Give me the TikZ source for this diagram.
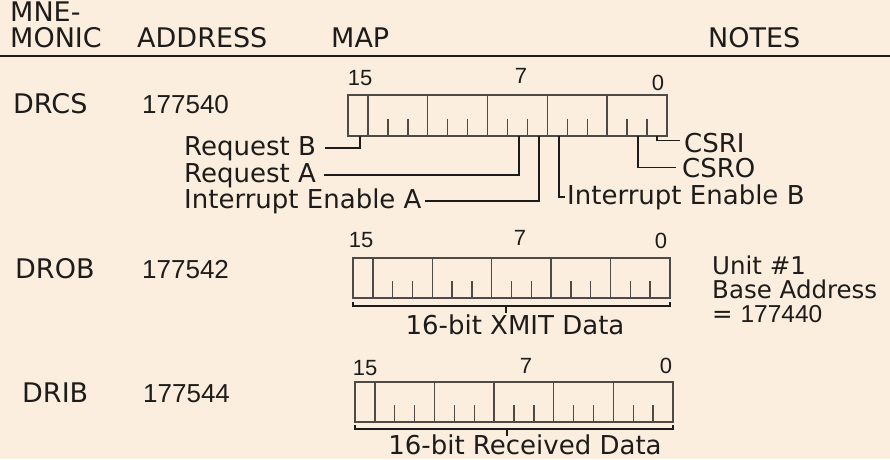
\documentclass[tikz,border=0pt]{standalone}
\usepackage{fontspec}
\setmainfont{DejaVu Sans}
\newfontfamily\numfont{Liberation Sans}
\definecolor{paper}{RGB}{252,238,222}
\definecolor{ink}{RGB}{30,28,26}
\definecolor{boxc}{RGB}{78,74,70}
\newcommand\drawreg[4]{%
  \draw[regline] (#1,#2) rectangle (#3,#4);
  \pgfmathsetmacro\regw{(#3-#1)/16}
  \foreach \k in {1,4,7,10,13} \draw[regline] ({#1+\k*\regw},#2) -- ({#1+\k*\regw},#4);
  \foreach \k in {2,3,5,6,8,9,11,12,14,15} \draw[regline] ({#1+\k*\regw},{#4-0.42*(#4-#2)}) -- ({#1+\k*\regw},#4);
}
\begin{document}
\begin{tikzpicture}[x=1pt,y=-1pt,
  txt/.style={inner sep=0pt, anchor=base west, text=ink, font=\fontsize{26}{30}\selectfont},
  hdr/.style={txt, font=\fontsize{27}{30}\selectfont},
  num/.style={txt, font=\numfont\fontsize{26}{30}\selectfont},
  note/.style={txt, font=\fontsize{24.5}{26}\selectfont},
  bitlbl/.style={inner sep=0pt, anchor=base, text=ink, font=\numfont\fontsize{22}{26}\selectfont},
  lead/.style={draw=ink, line width=1.9pt},
  regline/.style={draw=boxc, line width=1.4pt},
  brk/.style={draw=ink, line width=1.8pt},
]
\fill[paper] (0,0) rectangle (890,459);
\useasboundingbox (0,0) rectangle (890,459);

% header
\node[hdr] (h1) at (10,21) {MNE-};
\node[hdr] (h2) at (10,47) {MONIC};
\node[hdr] (h3) at (137,47) {ADDRESS};
\node[hdr] (h4) at (331,47) {MAP};
\node[hdr] (h5) at (708,47) {NOTES};
\draw[draw=ink, line width=2.6pt] (0,56) -- (890,56);

% DRCS row
\node[hdr] (m1) at (13,113) {DRCS};
\node[num] (a1) at (142,113) {177540};
\node[bitlbl] (l1a) at (360,85) {15};
\node[bitlbl] (l1b) at (521,83) {7};
\node[bitlbl] (l1c) at (658,90) {0};
\drawreg{348}{95}{667}{136}
\coordinate (c15) at (360,136);
\coordinate (c7) at (519,136);
\coordinate (c6) at (539,136);
\coordinate (c5) at (559,136);
\coordinate (c1) at (638,136);
\coordinate (c0) at (657,136);
\node[txt] (rqB) at (184,155) {Request B};
\node[txt] (rqA) at (184,182) {Request A};
\node[txt] (ieA) at (184,208) {Interrupt Enable A};
\node[txt] (ieB) at (567,204) {Interrupt Enable B};
\node[txt] (csri) at (684,152) {CSRI};
\node[txt] (csro) at (682,177) {CSRO};
\draw[lead] (c15) |- ([xshift=9pt]rqB.east);
\draw[lead] (c7) |- ([xshift=8pt]rqA.east);
\draw[lead] (c6) |- ([xshift=3pt]ieA.east);
\draw[lead] (c5) |- ([xshift=-2pt]ieB.west);
\draw[lead] (c1) |- ([xshift=-6pt]csro.west);
\draw[lead] (c0) |- ([xshift=-4pt,yshift=2pt]csri.west);

% DROB row
\node[hdr] (m2) at (15,278) {DROB};
\node[num] (a2) at (142,278) {177542};
\node[bitlbl] (l2a) at (361,247) {15};
\node[bitlbl] (l2b) at (520,245) {7};
\node[bitlbl] (l2c) at (661,248) {0};
\drawreg{353}{258}{670}{298}
\coordinate (b2l) at (353,302);
\coordinate (b2r) at (670,302);
\coordinate (b2m) at (506,306);
\draw[brk] (b2l) -- (353,306) -- (670,306) -- (b2r);
\draw[brk] (b2m) -- (506,313);
\node[txt, anchor=base] (d2) at (515,334) {16-bit XMIT Data};

% notes
\node[note] (n1) at (712,274) {Unit \#1};
\node[note] (n2) at (712,298) {Base Address};
\node[note] (n3) at (712,322) {= \numfont 177440};

% DRIB row
\node[hdr] (m3) at (22,402) {DRIB};
\node[num] (a3) at (143,402) {177544};
\node[bitlbl] (l3a) at (365,375) {15};
\node[bitlbl] (l3b) at (526,373) {7};
\node[bitlbl] (l3c) at (666,373) {0};
\drawreg{355}{382}{673}{422}
\coordinate (b3l) at (355,425);
\coordinate (b3r) at (673,425);
\coordinate (b3m) at (507,429);
\draw[brk] (b3l) -- (355,429) -- (673,429) -- (b3r);
\draw[brk] (b3m) -- (507,436);
\node[txt, anchor=base] (d3) at (525,454) {16-bit Received Data};
\end{tikzpicture}
\end{document}
